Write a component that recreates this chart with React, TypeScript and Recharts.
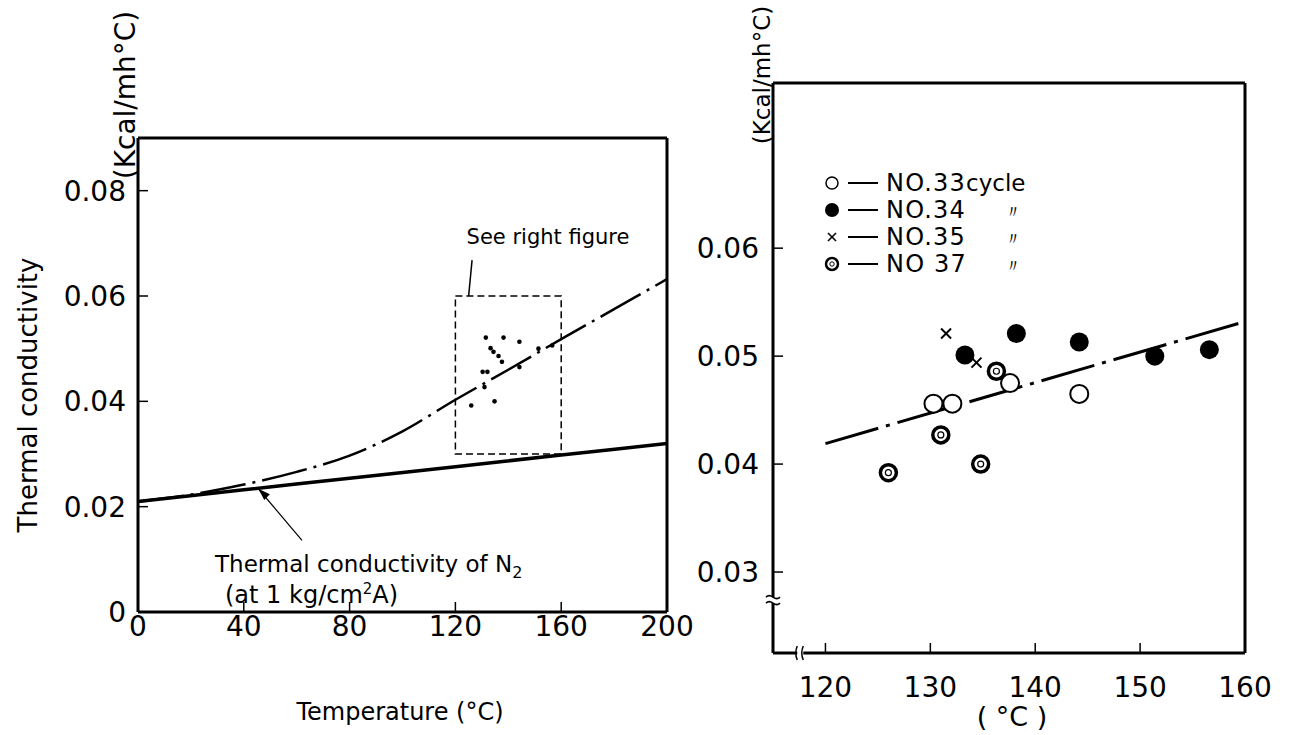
import React from "react";
import {
  ComposedChart, Line, Scatter, XAxis, YAxis,
  ReferenceArea, ReferenceLine, ReferenceDot,
} from "recharts";

const FONT = "'DejaVu Sans', sans-serif";

// left figure: thermal conductivity vs temperature
const n2Temp = [0, 40, 80, 120, 160, 200];
const n2K = [0.021, 0.0232, 0.0254, 0.0276, 0.0298, 0.032];
const fitTemp = [0, 20, 40, 60, 80, 100, 120, 140, 160, 180, 200];
const fitK = [0.021, 0.0223, 0.0242, 0.0266, 0.0297, 0.0343, 0.0403, 0.046, 0.0518, 0.0575, 0.0632];
const leftXTicks = [0, 40, 80, 120, 160, 200];
const leftYTicks = [0, 0.02, 0.04, 0.06, 0.08];

// right figure: measured cycles
const no33T = [130.3, 132.1, 137.6, 144.2];
const no33K = [0.0456, 0.0456, 0.0475, 0.0465];
const no34T = [133.3, 138.2, 144.2, 151.4, 156.6];
const no34K = [0.0501, 0.0521, 0.0513, 0.05, 0.0506];
const no35T = [131.5, 134.4];
const no35K = [0.0521, 0.0494];
const no37T = [126.0, 131.0, 134.8, 136.3];
const no37K = [0.0392, 0.0427, 0.04, 0.0486];
const lineT = [120, 160];
const lineK = [0.0419, 0.0532];
const rightXTicks = [120, 130, 140, 150, 160];
const rightYTicks = [0.03, 0.04, 0.05, 0.06];

const pts = (xs: number[], ys: number[]) => xs.map((t, i) => ({ t, k: ys[i] }));

const n2Data = pts(n2Temp, n2K);
const fitData = pts(fitTemp, fitK);
const d33 = pts(no33T, no33K);
const d34 = pts(no34T, no34K);
const d35 = pts(no35T, no35K);
const d37 = pts(no37T, no37K);
const allData = [...d33, ...d34, ...d35, ...d37];
const lineData = pts(lineT, lineK);

const axisLine = { stroke: "#000", strokeWidth: 3 };
const tickLine = { stroke: "#000", strokeWidth: 1.5 };
const tickText = { fill: "#000", fontSize: 28, fontFamily: FONT };

const SmallDot = (p: any) => <circle cx={p.cx} cy={p.cy} r={2.3} fill="#000" />;
const OpenDot = (p: any) => <circle cx={p.cx} cy={p.cy} r={9} fill="#fff" stroke="#000" strokeWidth={2} />;
const FullDot = (p: any) => <circle cx={p.cx} cy={p.cy} r={9.5} fill="#000" />;
const Cross = (p: any) => (
  <g stroke="#000" strokeWidth={2}>
    <line x1={p.cx - 5} y1={p.cy - 5} x2={p.cx + 5} y2={p.cy + 5} />
    <line x1={p.cx - 5} y1={p.cy + 5} x2={p.cx + 5} y2={p.cy - 5} />
  </g>
);
const Ring = (p: any) => (
  <g>
    <circle cx={p.cx} cy={p.cy} r={8} fill="#fff" stroke="#000" strokeWidth={3.5} />
    <circle cx={p.cx} cy={p.cy} r={3} fill="none" stroke="#000" strokeWidth={1.2} />
  </g>
);
const ArrowHead = (p: any) => (
  <polygon
    points={`${p.cx},${p.cy} ${p.cx + 11.5},${p.cy + 5.4} ${p.cx + 5.9},${p.cy + 11.2}`}
    fill="#000"
  />
);
const YBreak = (p: any) => (
  <g>
    <rect x={p.cx - 6} y={p.cy - 3} width={12} height={6} fill="#fff" />
    <path d={`M${p.cx - 7},${p.cy - 3} q3,-3 7,0 t7,0 M${p.cx - 7},${p.cy + 3} q3,-3 7,0 t7,0`} stroke="#000" strokeWidth={1.5} fill="none" />
  </g>
);
const XBreak = (p: any) => (
  <g>
    <rect x={p.cx - 3} y={p.cy - 6} width={6} height={12} fill="#fff" />
    <path d={`M${p.cx - 3},${p.cy - 7} q-3,7 0,14 M${p.cx + 3},${p.cy - 7} q-3,7 0,14`} stroke="#000" strokeWidth={1.5} fill="none" />
  </g>
);

const txt = (extra: React.CSSProperties): React.CSSProperties => ({
  position: "absolute",
  fontFamily: FONT,
  color: "#000",
  whiteSpace: "nowrap",
  lineHeight: 1,
  ...extra,
});

const rot = (cx: number, cy: number, size: number): React.CSSProperties => ({
  left: cx,
  top: cy,
  fontSize: size,
  transform: "translate(-50%, -50%) rotate(-90deg)",
});

const legendRows = [
  { label: "NO.33", tail: "cycle", shape: "open" },
  { label: "NO.34", tail: "〃", shape: "full" },
  { label: "NO.35", tail: "〃", shape: "cross" },
  { label: "NO 37", tail: "〃", shape: "ring" },
];
const legendY = [183, 210, 237, 264];

function LegendIcon({ shape }: { shape: string }) {
  return (
    <svg width={20} height={20} style={{ position: "absolute", left: -10, top: -10 }}>
      {shape === "open" && <circle cx={10} cy={10} r={6} fill="#fff" stroke="#000" strokeWidth={1.5} />}
      {shape === "full" && <circle cx={10} cy={10} r={7} fill="#000" />}
      {shape === "cross" && (
        <g stroke="#000" strokeWidth={1.6}>
          <line x1={6} y1={6} x2={14} y2={14} />
          <line x1={6} y1={14} x2={14} y2={6} />
        </g>
      )}
      {shape === "ring" && (
        <g>
          <circle cx={10} cy={10} r={6} fill="#fff" stroke="#000" strokeWidth={2.5} />
          <circle cx={10} cy={10} r={2.2} fill="none" stroke="#000" strokeWidth={1} />
        </g>
      )}
    </svg>
  );
}

export default function App() {
  return (
    <div style={{ position: "absolute", left: 0, top: 0, width: 1292, height: 735, background: "#fff", overflow: "hidden" }}>
      <div style={{ position: "absolute", left: 0, top: 0 }}>
        <ComposedChart width={720} height={735} margin={{ top: 0, right: 0, bottom: 0, left: 0 }}>
          <XAxis xAxisId="b" type="number" dataKey="t" domain={[0, 200]} ticks={leftXTicks} allowDataOverflow
            height={123} axisLine={axisLine} tickLine={tickLine} tickSize={-10} tickMargin={14} tick={tickText} />
          <XAxis xAxisId="top" type="number" orientation="top" domain={[0, 200]} ticks={[40, 80, 120, 160]} allowDataOverflow
            height={138} axisLine={axisLine} tickLine={tickLine} tickSize={-10} tick={false} />
          <YAxis yAxisId="l" type="number" dataKey="k" domain={[0, 0.09]} ticks={leftYTicks} allowDataOverflow
            width={138} axisLine={axisLine} tickLine={tickLine} tickSize={-10} tickMargin={22} tick={tickText}
            tickFormatter={(v: number) => (v === 0 ? "0" : v.toFixed(2))} />
          <YAxis yAxisId="r" type="number" orientation="right" domain={[0, 0.09]} ticks={[0.02, 0.04, 0.06, 0.08]} allowDataOverflow
            width={53} axisLine={axisLine} tickLine={tickLine} tickSize={-10} tick={false} />
          <ReferenceArea xAxisId="b" yAxisId="l" x1={120} x2={160} y1={0.03} y2={0.06}
            fill="none" fillOpacity={0} stroke="#000" strokeWidth={1.5} strokeDasharray="7 4" />
          <ReferenceLine xAxisId="b" yAxisId="l" segment={[{ x: 125, y: 0.06 }, { x: 126.3, y: 0.0668 }]} stroke="#000" strokeWidth={1.5} />
          <ReferenceLine xAxisId="b" yAxisId="l" segment={[{ x: 45.5, y: 0.0234 }, { x: 62, y: 0.0136 }]} stroke="#000" strokeWidth={1.2} />
          <ReferenceDot xAxisId="b" yAxisId="l" x={45.5} y={0.0234} shape={ArrowHead} ifOverflow="visible" />
          <Line xAxisId="b" yAxisId="l" data={n2Data} dataKey="k" type="monotone" stroke="#000" strokeWidth={3.5}
            dot={false} isAnimationActive={false} />
          <Line xAxisId="b" yAxisId="l" data={fitData} dataKey="k" type="monotone" stroke="#000" strokeWidth={2.5}
            strokeDasharray="46 7 3 7" dot={false} isAnimationActive={false} />
          <Scatter xAxisId="b" yAxisId="l" data={allData} shape={SmallDot} isAnimationActive={false} />
        </ComposedChart>
      </div>

      <div style={{ position: "absolute", left: 640, top: 0 }}>
        <ComposedChart width={652} height={735} margin={{ top: 0, right: 0, bottom: 0, left: 0 }}>
          <XAxis xAxisId="b" type="number" dataKey="t" domain={[115, 160]} ticks={rightXTicks} allowDataOverflow
            height={82} axisLine={axisLine} tickLine={tickLine} tickSize={-10} tickMargin={34} tick={tickText} />
          <XAxis xAxisId="top" type="number" orientation="top" domain={[115, 160]} ticks={[120, 130, 140, 150]} allowDataOverflow
            height={83} axisLine={axisLine} tickLine={tickLine} tickSize={-10} tick={false} />
          <YAxis yAxisId="l" type="number" dataKey="k" domain={[0.0225, 0.0753]} ticks={rightYTicks} allowDataOverflow
            width={133} axisLine={axisLine} tickLine={tickLine} tickSize={-10} tickMargin={24} tick={tickText}
            tickFormatter={(v: number) => v.toFixed(2)} />
          <YAxis yAxisId="r" type="number" orientation="right" domain={[0.0225, 0.0753]} ticks={rightYTicks} allowDataOverflow
            width={47} axisLine={axisLine} tickLine={tickLine} tickSize={-10} tick={false} />
          <ReferenceDot xAxisId="b" yAxisId="l" x={115} y={0.0274} shape={YBreak} ifOverflow="visible" />
          <ReferenceDot xAxisId="b" yAxisId="l" x={117.6} y={0.0225} shape={XBreak} ifOverflow="visible" />
          <Line xAxisId="b" yAxisId="l" data={lineData} dataKey="k" type="linear" stroke="#000" strokeWidth={3}
            strokeDasharray="55 8 4 8" dot={false} isAnimationActive={false} />
          <Scatter xAxisId="b" yAxisId="l" data={d33} shape={OpenDot} isAnimationActive={false} />
          <Scatter xAxisId="b" yAxisId="l" data={d34} shape={FullDot} isAnimationActive={false} />
          <Scatter xAxisId="b" yAxisId="l" data={d35} shape={Cross} isAnimationActive={false} />
          <Scatter xAxisId="b" yAxisId="l" data={d37} shape={Ring} isAnimationActive={false} />
        </ComposedChart>
      </div>

      {/* left figure texts */}
      <div style={txt(rot(28, 395, 26))}>Thermal conductivity</div>
      <div style={txt(rot(126, 95, 28))}>(Kcal/mh°C)</div>
      <div style={txt({ left: 548, top: 237, fontSize: 21, transform: "translate(-50%, -50%)" })}>See right figure</div>
      <div style={txt({ left: 215, top: 553, fontSize: 23 })}>
        Thermal conductivity of N<sub style={{ fontSize: 16 }}>2</sub>
      </div>
      <div style={txt({ left: 225, top: 582, fontSize: 24 })}>
        (at 1 kg/cm<sup style={{ fontSize: 15 }}>2</sup>A)
      </div>
      <div style={txt({ left: 400, top: 712, fontSize: 24, transform: "translate(-50%, -50%)" })}>Temperature (°C)</div>

      {/* right figure texts */}
      <div style={txt(rot(762, 75, 23))}>(Kcal/mh°C)</div>
      <div style={txt({ left: 1012, top: 716, fontSize: 27, transform: "translate(-50%, -50%)" })}>( °C )</div>
      {legendRows.map((r, i) => (
        <div key={r.label} style={{ position: "absolute", left: 832, top: legendY[i] }}>
          <LegendIcon shape={r.shape} />
          <div style={{ position: "absolute", left: 16, top: -1, width: 30, height: 2, background: "#000" }} />
          <div style={txt({ left: 54, top: 0, fontSize: 24, letterSpacing: 1.2, transform: "translateY(-50%)" })}>
            {r.label}
            {r.tail === "cycle" && <span style={{ fontSize: 23, letterSpacing: 0 }}>cycle</span>}
          </div>
          {r.tail !== "cycle" && (
            <div style={txt({ left: 172, top: 0, fontSize: 18, transform: "translateY(-40%)" })}>{r.tail}</div>
          )}
        </div>
      ))}
    </div>
  );
}
